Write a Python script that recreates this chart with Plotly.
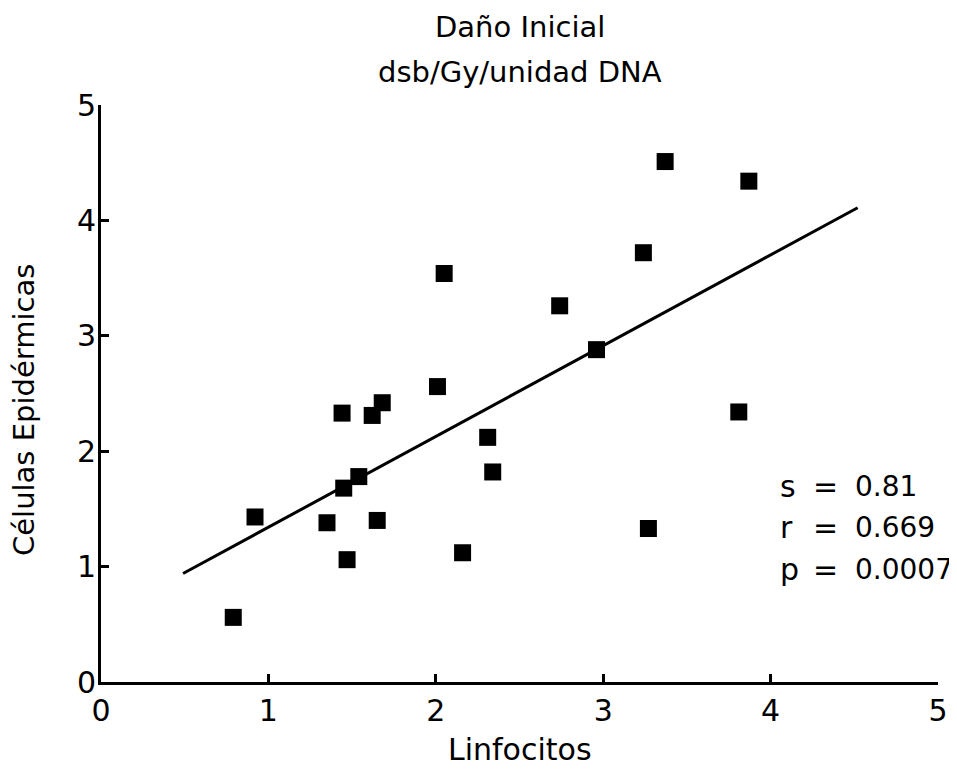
import plotly.graph_objects as go

# Data
linfocitos = [0.79, 0.92, 1.35, 1.47, 1.45, 1.54, 1.65, 1.44, 1.62, 1.68, 2.01,
              2.05, 2.16, 2.31, 2.34, 2.74, 2.96, 3.24, 3.37, 3.27, 3.81, 3.87]
celulas_epidermicas = [0.56, 1.43, 1.38, 1.06, 1.68, 1.78, 1.40, 2.33, 2.31, 2.42, 2.56,
                       3.54, 1.12, 2.12, 1.82, 3.26, 2.88, 3.72, 4.51, 1.33, 2.34, 4.34]
fit_x = [0.49, 4.52]
fit_y = [0.94, 4.11]
tick_vals = [0, 1, 2, 3, 4, 5]
stat_names = ["s", "r", "p"]
stat_values = ["0.81", "0.669", "0.0007"]

FONT = "DejaVu Sans"
OFF = 8  # page body margin
W, H = 957 - OFF, 770 - OFF
# plot area in page pixels: x 101..938, y 105..682
L, T = 101 - OFF, 105 - OFF
R = W - (938 - OFF)
B = H - (682 - OFF)
pw, ph = W - L - R, H - T - B

def px_x(p):
    return (p - OFF - L) / pw

def px_y(p):
    return (H - B - (p - OFF)) / ph

fig = go.Figure()
fig.add_trace(go.Scatter(x=fit_x, y=fit_y, mode="lines",
                         line=dict(color="black", width=3), hoverinfo="skip"))
fig.add_trace(go.Scatter(x=linfocitos, y=celulas_epidermicas, mode="markers",
                         marker=dict(symbol="square", size=17, color="black",
                                     line=dict(width=0))))

axis_common = dict(range=[0, 5], tickvals=tick_vals, ticks="inside", ticklen=8,
                   tickwidth=3, tickcolor="black", showline=True, linecolor="black",
                   linewidth=3, showgrid=False, zeroline=False, automargin=False,
                   tickfont=dict(family=FONT, size=30, color="black"))

fig.update_xaxes(**axis_common, ticklabelstandoff=0)
fig.update_yaxes(**axis_common, ticklabelstandoff=-4)

annotations = [
    dict(text="Daño Inicial", x=0.5, y=px_y(27), xref="paper", yref="paper",
         showarrow=False, xanchor="center", yanchor="middle",
         font=dict(family=FONT, size=29, color="black")),
    dict(text="dsb/Gy/unidad DNA", x=0.5, y=px_y(72), xref="paper", yref="paper",
         showarrow=False, xanchor="center", yanchor="middle",
         font=dict(family=FONT, size=29, color="black")),
    dict(text="Linfocitos", x=0.5, y=px_y(749), xref="paper", yref="paper",
         showarrow=False, xanchor="center", yanchor="middle",
         font=dict(family=FONT, size=30, color="black")),
    dict(text="Células Epidérmicas", x=px_x(24), y=px_y(410), xref="paper", yref="paper",
         showarrow=False, xanchor="center", yanchor="middle", textangle=-90,
         font=dict(family=FONT, size=29, color="black")),
]
row_y = [486, 527, 569]
for name, val, yy in zip(stat_names, stat_values, row_y):
    annotations.append(dict(text=name, x=px_x(778), y=px_y(yy), xref="paper", yref="paper",
                            showarrow=False, xanchor="left", yanchor="middle",
                            font=dict(family=FONT, size=30, color="black")))
    annotations.append(dict(text="=", x=px_x(825), y=px_y(yy), xref="paper", yref="paper",
                            showarrow=False, xanchor="center", yanchor="middle",
                            font=dict(family=FONT, size=30, color="black")))
    annotations.append(dict(text=val, x=px_x(853), y=px_y(yy), xref="paper", yref="paper",
                            showarrow=False, xanchor="left", yanchor="middle",
                            font=dict(family=FONT, size=28, color="black")))

fig.update_layout(width=W, height=H, margin=dict(l=L, r=R, t=T, b=B),
                  paper_bgcolor="white", plot_bgcolor="white", showlegend=False,
                  annotations=annotations)

fig.write_html("out.html")
